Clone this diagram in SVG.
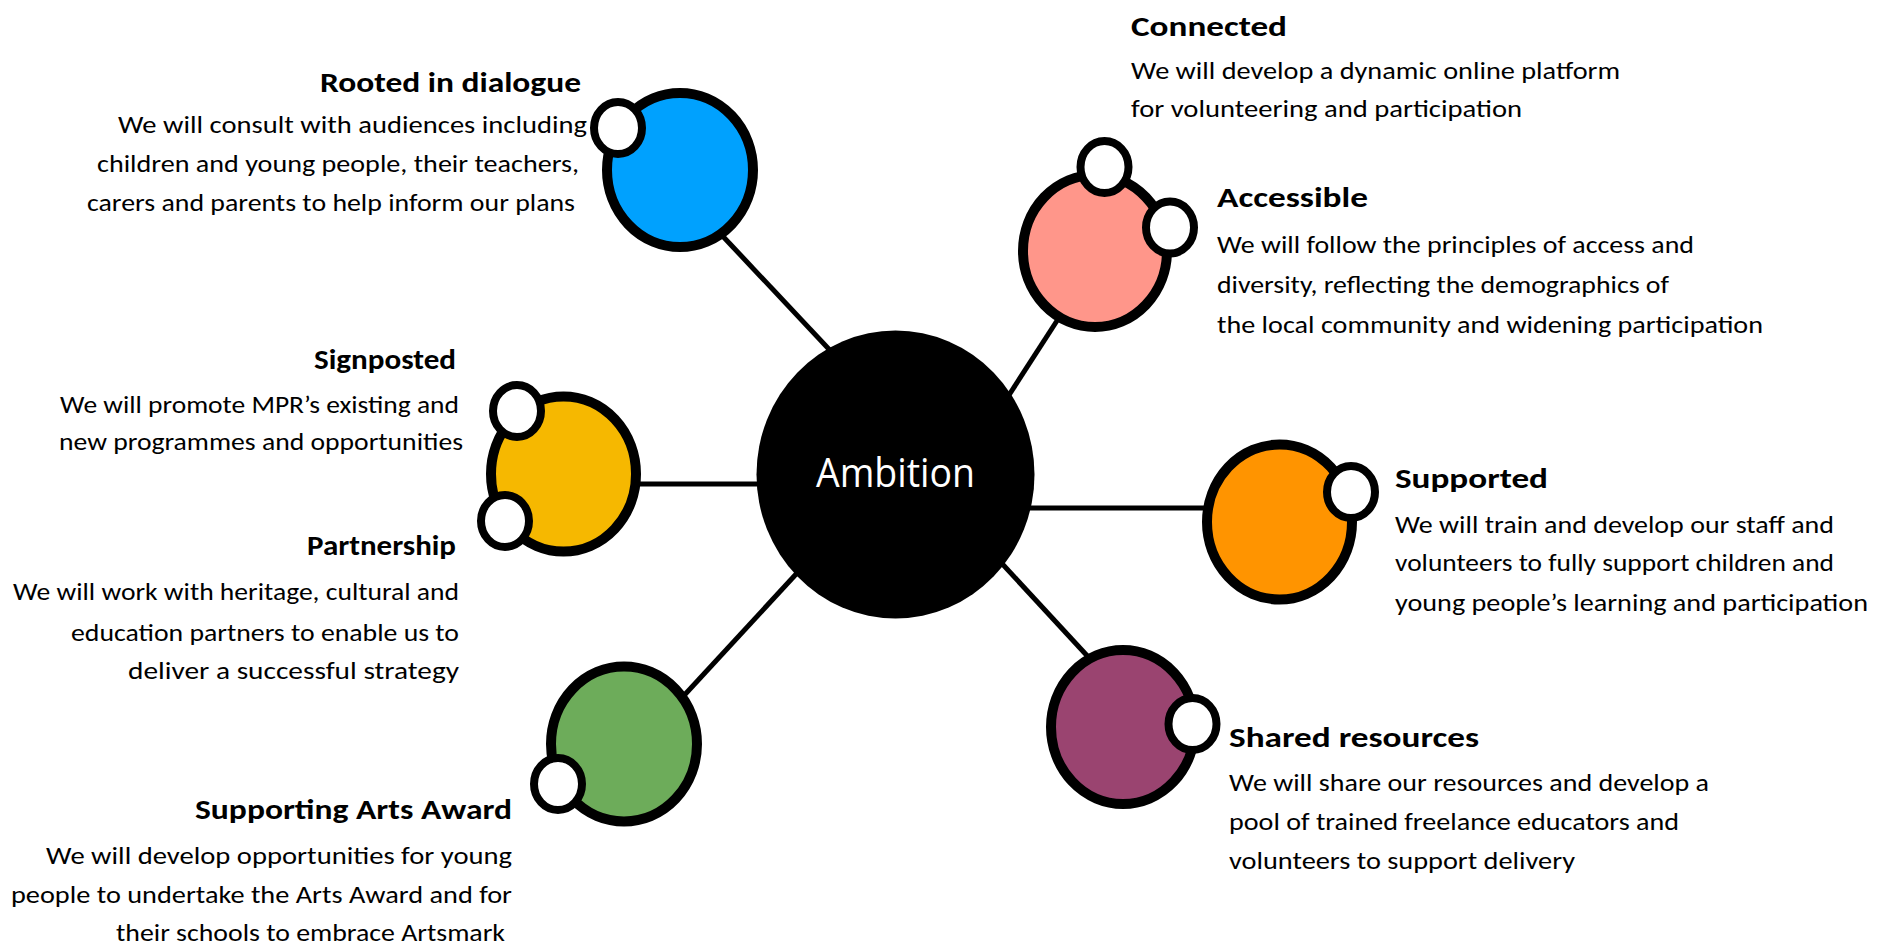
<svg xmlns="http://www.w3.org/2000/svg" width="1902" height="949" viewBox="0 0 1902 949">
<style>
.title{font-family:Carlito,Lato,"Open Sans",sans-serif;font-weight:700;font-size:29px;fill:#000}
.body{font-family:Carlito,Lato,"Open Sans",sans-serif;font-size:25px;fill:#000}
.big{stroke:#000;stroke-width:10}
.dot{fill:#fff;stroke:#000;stroke-width:8}
.conn line{stroke:#000;stroke-width:5}
.center{font-family:"Open Sans","Noto Sans",sans-serif;font-size:40px;fill:#fff}
</style>
<rect width="1902" height="949" fill="#fff"/>
<g id="connectors" class="conn">
<line x1="716" y1="229" x2="840" y2="361"/>
<line x1="1062" y1="313" x2="1000" y2="409"/>
<line x1="630" y1="484" x2="770" y2="484"/>
<line x1="1020" y1="508" x2="1215" y2="508"/>
<line x1="678" y1="702" x2="810" y2="559"/>
<line x1="995" y1="556" x2="1092" y2="661"/>
</g>
<g id="ambition">
<ellipse cx="895.5" cy="474.5" rx="139" ry="144" fill="#000"/>
<text class="center" x="816" y="487" textLength="159" lengthAdjust="spacingAndGlyphs">Ambition</text>
</g>
<g id="rooted">
<ellipse class="big" cx="680" cy="170" rx="73" ry="77" fill="#00A1FE"/>
<ellipse class="dot" cx="618" cy="128" rx="24" ry="26"/>
<text class="title" x="320" y="92" textLength="261" lengthAdjust="spacingAndGlyphs">Rooted in dialogue</text>
<text class="body" x="118" y="133" textLength="469" lengthAdjust="spacingAndGlyphs">We will consult with audiences including</text>
<text class="body" x="97" y="172" textLength="482" lengthAdjust="spacingAndGlyphs">children and young people, their teachers,</text>
<text class="body" x="87" y="211" textLength="488" lengthAdjust="spacingAndGlyphs">carers and parents to help inform our plans</text>
</g>
<g id="accessible">
<ellipse class="big" cx="1095" cy="251" rx="72" ry="76" fill="#FF968A"/>
<ellipse class="dot" cx="1104.5" cy="167" rx="24" ry="26"/>
<ellipse class="dot" cx="1170" cy="227.5" rx="24" ry="26"/>
<text class="title" x="1217" y="207" textLength="151" lengthAdjust="spacingAndGlyphs">Accessible</text>
<text class="body" x="1217" y="253" textLength="477" lengthAdjust="spacingAndGlyphs">We will follow the principles of access and</text>
<text class="body" x="1217" y="293" textLength="452" lengthAdjust="spacingAndGlyphs">diversity, reflecting the demographics of</text>
<text class="body" x="1217" y="333" textLength="546" lengthAdjust="spacingAndGlyphs">the local community and widening participation</text>
</g>
<g id="connected">
<text class="title" x="1131" y="36" textLength="156" lengthAdjust="spacingAndGlyphs">Connected</text>
<text class="body" x="1131" y="79" textLength="489" lengthAdjust="spacingAndGlyphs">We will develop a dynamic online platform</text>
<text class="body" x="1131" y="117" textLength="391" lengthAdjust="spacingAndGlyphs">for volunteering and participation</text>
</g>
<g id="signposted-partnership">
<ellipse class="big" cx="563.5" cy="474" rx="72.5" ry="77.5" fill="#F6B800"/>
<ellipse class="dot" cx="517" cy="411" rx="24" ry="26"/>
<ellipse class="dot" cx="505" cy="521" rx="24" ry="26"/>
<text class="title" x="314" y="369" textLength="142" lengthAdjust="spacingAndGlyphs">Signposted</text>
<text class="body" x="60" y="413" textLength="399" lengthAdjust="spacingAndGlyphs">We will promote MPR’s existing and</text>
<text class="body" x="59" y="450" textLength="404" lengthAdjust="spacingAndGlyphs">new programmes and opportunities</text>
<text class="title" x="307" y="555" textLength="149" lengthAdjust="spacingAndGlyphs">Partnership</text>
<text class="body" x="13" y="600" textLength="446" lengthAdjust="spacingAndGlyphs">We will work with heritage, cultural and</text>
<text class="body" x="71" y="641" textLength="388" lengthAdjust="spacingAndGlyphs">education partners to enable us to</text>
<text class="body" x="128" y="679" textLength="331" lengthAdjust="spacingAndGlyphs">deliver a successful strategy</text>
</g>
<g id="supported">
<ellipse class="big" cx="1279.5" cy="522" rx="72.5" ry="77.5" fill="#FF9400"/>
<ellipse class="dot" cx="1351" cy="492" rx="24" ry="26"/>
<text class="title" x="1395" y="488" textLength="153" lengthAdjust="spacingAndGlyphs">Supported</text>
<text class="body" x="1395" y="533" textLength="439" lengthAdjust="spacingAndGlyphs">We will train and develop our staff and</text>
<text class="body" x="1395" y="571" textLength="439" lengthAdjust="spacingAndGlyphs">volunteers to fully support children and</text>
<text class="body" x="1395" y="611" textLength="473" lengthAdjust="spacingAndGlyphs">young people’s learning and participation</text>
</g>
<g id="shared-resources">
<ellipse class="big" cx="1123" cy="727" rx="72" ry="77" fill="#9A4470"/>
<ellipse class="dot" cx="1192.5" cy="724" rx="24" ry="26"/>
<text class="title" x="1229" y="747" textLength="250" lengthAdjust="spacingAndGlyphs">Shared resources</text>
<text class="body" x="1229" y="791" textLength="480" lengthAdjust="spacingAndGlyphs">We will share our resources and develop a</text>
<text class="body" x="1229" y="830" textLength="450" lengthAdjust="spacingAndGlyphs">pool of trained freelance educators and</text>
<text class="body" x="1229" y="869" textLength="346" lengthAdjust="spacingAndGlyphs">volunteers to support delivery</text>
</g>
<g id="arts-award">
<ellipse class="big" cx="624" cy="744" rx="73" ry="77.5" fill="#6DAC5A"/>
<ellipse class="dot" cx="558" cy="784" rx="24" ry="26"/>
<text class="title" x="195" y="819" textLength="317" lengthAdjust="spacingAndGlyphs">Supporting Arts Award</text>
<text class="body" x="46" y="864" textLength="466" lengthAdjust="spacingAndGlyphs">We will develop opportunities for young</text>
<text class="body" x="11" y="903" textLength="501" lengthAdjust="spacingAndGlyphs">people to undertake the Arts Award and for</text>
<text class="body" x="116" y="941" textLength="389" lengthAdjust="spacingAndGlyphs">their schools to embrace Artsmark</text>
</g>
</svg>
